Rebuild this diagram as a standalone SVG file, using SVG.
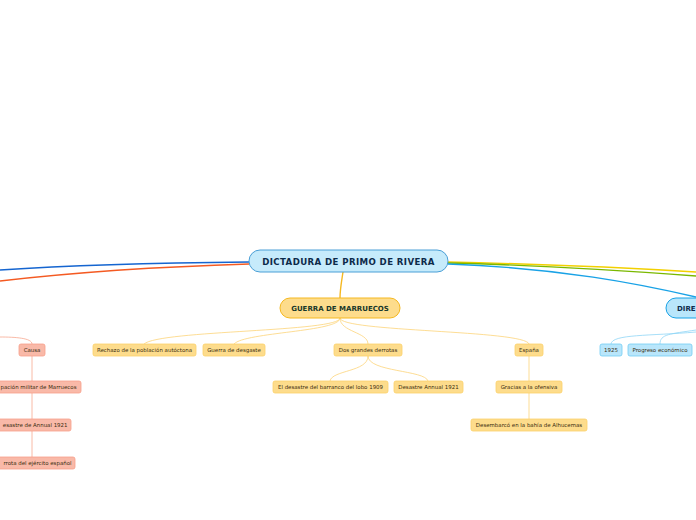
<svg xmlns="http://www.w3.org/2000/svg" width="696" height="520" viewBox="0 0 696 520">
<style>
.t{font-family:"DejaVu Sans","Verdana",sans-serif;font-size:5.45px;fill:#3a2e10;text-anchor:middle;dominant-baseline:central}
.y{fill:#fddc8c;stroke:#fbd06a;stroke-width:0.8}
.p{fill:#f9b9a8;stroke:#f7a08c;stroke-width:0.8}
.b{fill:#b9e6fb;stroke:#72cdf4;stroke-width:0.8}
.cy{fill:none;stroke:#fdd47a;stroke-width:0.8}
.cp{fill:none;stroke:#f8a890;stroke-width:0.8}
.cb{fill:none;stroke:#8fd6f6;stroke-width:0.8}
</style>
<rect width="696" height="520" fill="#fff"/>
<g id="connectors">
<path d="M249,262 C150,263 60,266 0,270" fill="none" stroke="#1565d0" stroke-width="1.4"/>
<path d="M249,264 C150,267 60,274 0,281" fill="none" stroke="#f45a22" stroke-width="1.4"/>
<path d="M448,262 C540,264 630,268 696,272" fill="none" stroke="#f2d000" stroke-width="1.4"/>
<path d="M448,263 C540,265 630,271 696,276" fill="none" stroke="#7ab800" stroke-width="1.4"/>
<path d="M448,264 C560,268 640,284 696,297" fill="none" stroke="#19a2e6" stroke-width="1.4"/>
<path d="M343,272 C341,285 340,290 340,298" fill="none" stroke="#f5b820" stroke-width="1.4"/>
<path class="cy" d="M340,318 C340,332 160,330 144,344"/>
<path class="cy" d="M340,318 C340,332 245,332 234,344"/>
<path class="cy" d="M340,318 C340,332 368,332 368,344"/>
<path class="cy" d="M340,318 C340,332 525,330 529,344"/>
<path class="cy" d="M368,356 C368,372 332,370 330,381"/>
<path class="cy" d="M368,356 C368,372 425,370 428,381"/>
<path class="cy" d="M529,356 L529,381"/>
<path class="cy" d="M529,393 L529,419"/>
<path class="cp" d="M0,337 C15,337 32,338 32,344"/>
<path class="cp" d="M32,356 L32,457"/>
<path class="cb" d="M696,332 C650,336 612,334 611,344"/>
<path class="cb" d="M696,330 C670,334 660,334 660,344"/>
</g>
<g id="main">
<rect x="249" y="250" width="199" height="22" rx="11" fill="#c6ebfb" stroke="#4a9fd6" stroke-width="1"/>
<text x="348.5" y="261.5" style="font-family:'DejaVu Sans',sans-serif;font-size:8.6px;letter-spacing:0.4px;font-weight:bold;fill:#0d2a4a;text-anchor:middle;dominant-baseline:central">DICTADURA DE PRIMO DE RIVERA</text>
</g>
<g id="guerra">
<rect x="280" y="298" width="120" height="20" rx="10" fill="#fddc8c" stroke="#f5b820" stroke-width="1"/>
<text x="340" y="308.5" style="font-family:'DejaVu Sans',sans-serif;font-size:7px;font-weight:bold;fill:#17372a;text-anchor:middle;dominant-baseline:central">GUERRA DE MARRUECOS</text>
</g>
<g id="directorio">
<rect x="666" y="298" width="60" height="20" rx="10" fill="#b9e6fb" stroke="#19a2e6" stroke-width="1"/>
<text x="677" y="308.5" style="font-family:'DejaVu Sans',sans-serif;font-size:7px;font-weight:bold;fill:#0d2a4a;dominant-baseline:central">DIRE</text>
</g>
<g id="rechazo"><rect class="y" x="93" y="344" width="103" height="12" rx="2"/><text class="t" x="144.5" y="350">Rechazo de la población autóctona</text></g>
<g id="desgaste"><rect class="y" x="203" y="344" width="62" height="12" rx="2"/><text class="t" x="234" y="350">Guerra de desgaste</text></g>
<g id="dos"><rect class="y" x="334" y="344" width="68" height="12" rx="2"/><text class="t" x="368" y="350">Dos grandes derrotas</text></g>
<g id="espana"><rect class="y" x="515" y="344" width="28" height="12" rx="2"/><text class="t" x="529" y="350">España</text></g>
<g id="barranco"><rect class="y" x="273" y="381" width="115" height="12" rx="2"/><text class="t" x="330.5" y="387">El desastre del barranco del lobo 1909</text></g>
<g id="annual"><rect class="y" x="394" y="381" width="69" height="12" rx="2"/><text class="t" x="428.5" y="387">Desastre Annual 1921</text></g>
<g id="gracias"><rect class="y" x="496" y="381" width="66" height="12" rx="2"/><text class="t" x="529" y="387">Gracias a la ofensiva</text></g>
<g id="desembarco"><rect class="y" x="471" y="419" width="116" height="12" rx="2"/><text class="t" x="529" y="425">Desembarcó en la bahía de Alhucemas</text></g>
<g id="causa"><rect class="p" x="19" y="344" width="26" height="12" rx="2"/><text class="t" x="32" y="350">Causa</text></g>
<g id="ocupacion"><rect class="p" x="-20" y="381" width="101" height="12" rx="2"/><text class="t" x="76.5" y="387" style="text-anchor:end">pación militar de Marruecos</text></g>
<g id="desastre"><rect class="p" x="-10" y="419" width="81" height="12" rx="2"/><text class="t" x="67.5" y="425" style="text-anchor:end">esastre de Annual 1921</text></g>
<g id="derrota"><rect class="p" x="-10" y="457" width="85" height="12" rx="2"/><text class="t" x="71.5" y="463" style="text-anchor:end">rrota del ejército español</text></g>
<g id="n1925"><rect class="b" x="600" y="344" width="22" height="12" rx="2"/><text class="t" x="611" y="350">1925</text></g>
<g id="progreso"><rect class="b" x="628" y="344" width="64" height="12" rx="2"/><text class="t" x="660" y="350">Progreso económico</text></g>
</svg>
